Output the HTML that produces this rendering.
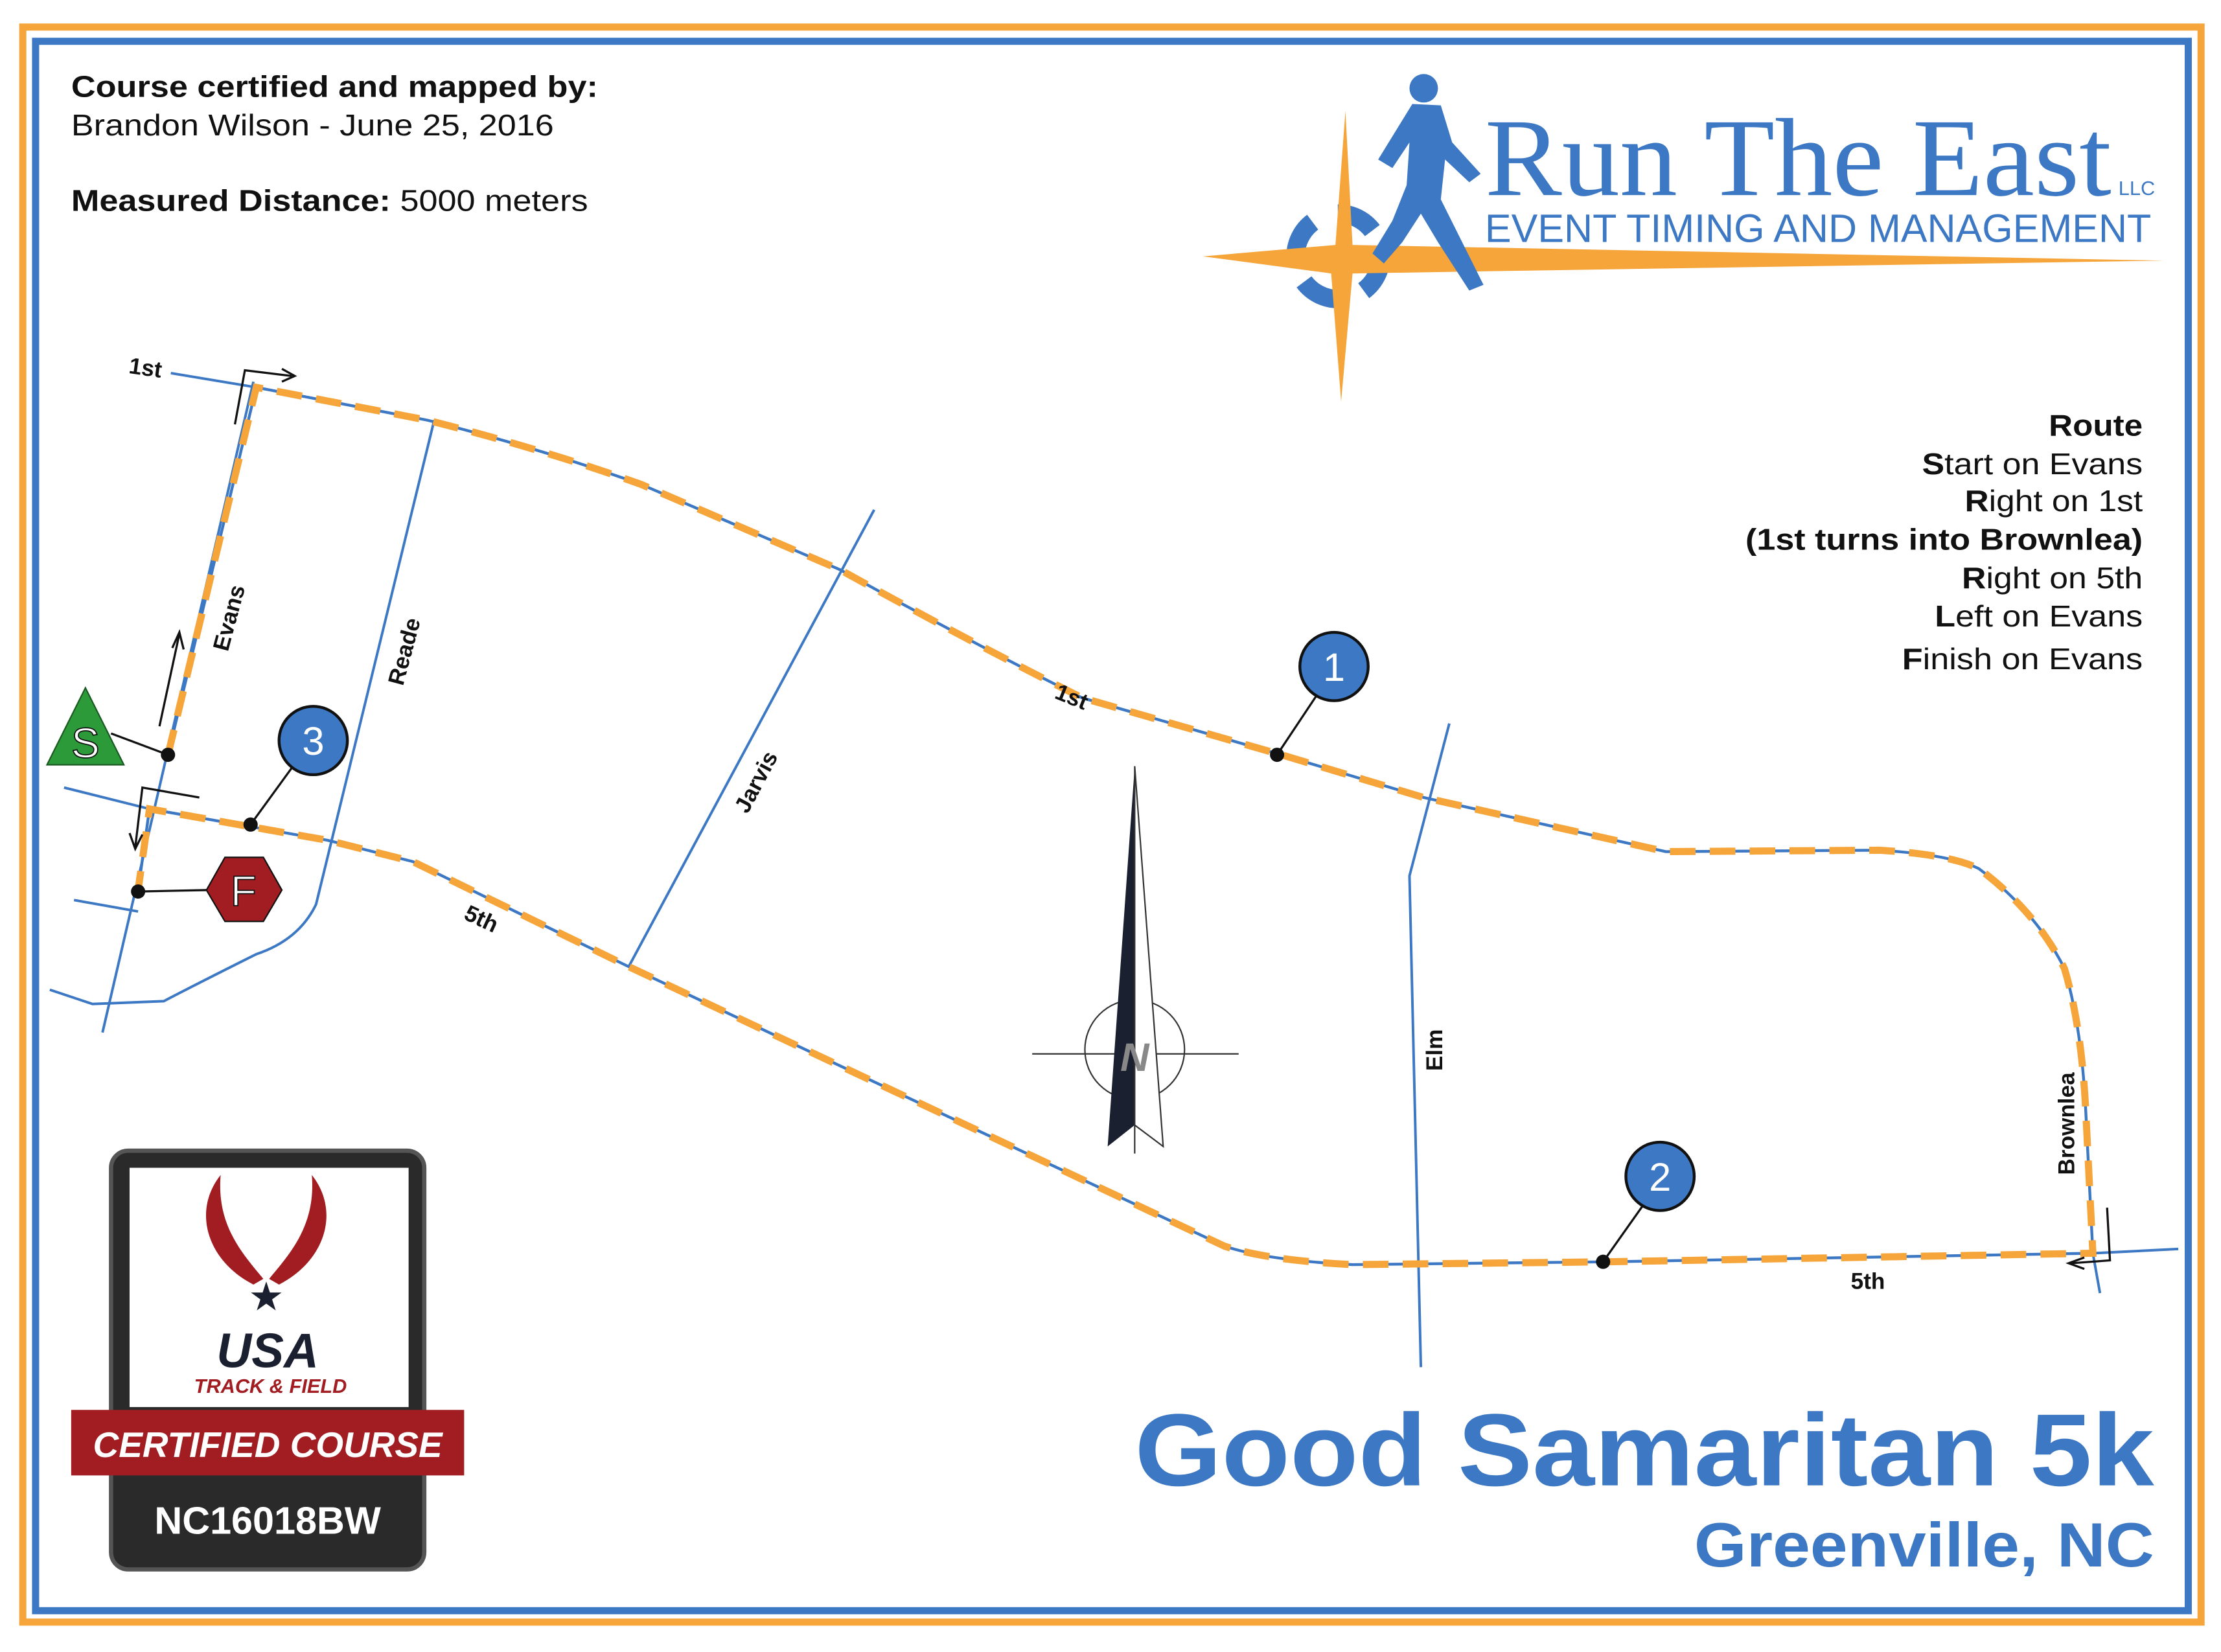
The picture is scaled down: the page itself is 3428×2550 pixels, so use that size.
<!DOCTYPE html>
<html><head><meta charset="utf-8">
<style>
html,body{margin:0;padding:0;background:#fff;}
svg{display:block;}
.s{font-family:"Liberation Sans",Arial,sans-serif;}
</style></head>
<body>
<svg width="3428" height="2550" viewBox="0 0 1560 1160" preserveAspectRatio="none" xmlns="http://www.w3.org/2000/svg">
<rect width="1560" height="1160" fill="#fff"/>
<rect x="16" y="19" width="1530" height="1120" fill="none" stroke="#f5a53a" stroke-width="5"/>
<rect x="25" y="29" width="1512" height="1102" fill="none" stroke="#3c78c3" stroke-width="5"/>

<g class="s">
<text x="50" y="68" font-size="21" font-weight="bold" fill="#111" textLength="370" lengthAdjust="spacingAndGlyphs">Course certified and mapped by:</text>
<text x="50" y="95" font-size="21" fill="#111" textLength="339" lengthAdjust="spacingAndGlyphs">Brandon Wilson - June 25, 2016</text>
<text x="50" y="148" font-size="21" fill="#111" textLength="363" lengthAdjust="spacingAndGlyphs"><tspan font-weight="bold">Measured Distance:</tspan> 5000 meters</text>
</g>

<!-- logo -->
<g>
<circle cx="940" cy="180" r="30" fill="none" stroke="#3c78c3" stroke-width="13" stroke-dasharray="28 19"/>
<polygon points="845,180 938,172 945,78 950,172 1520,183 950,192 942,282 935,192" fill="#f5a53a"/>
<circle cx="1000" cy="62" r="10" fill="#3c78c3"/>
<path d="M992,73 L1012,74 L1020,100 L1040,122 L1032,128 L1015,112 L1012,140 L1028,172 L1042,200 L1032,204 L1010,170 L998,150 L985,170 L972,185 L964,178 L978,155 L988,130 L990,100 L978,118 L968,112 Z" fill="#3c78c3"/>
<text x="1043" y="137" font-size="78" style="font-family:'Liberation Serif',serif" fill="#3c78c3" textLength="440" lengthAdjust="spacingAndGlyphs">Run The East</text>
<text x="1488" y="137" font-size="14" style="font-family:'Liberation Sans',sans-serif" fill="#3c78c3">LLC</text>
<text x="1043" y="170" font-size="28" style="font-family:'Liberation Sans',sans-serif" fill="#3c78c3" textLength="468" lengthAdjust="spacingAndGlyphs">EVENT TIMING AND MANAGEMENT</text>
</g>

<g class="s" font-size="21" fill="#111" text-anchor="end">
<text x="1505" y="306" font-weight="bold" textLength="66" lengthAdjust="spacingAndGlyphs">Route</text>
<text x="1505" y="333" textLength="155" lengthAdjust="spacingAndGlyphs"><tspan font-weight="bold">S</tspan>tart on Evans</text>
<text x="1505" y="359" textLength="125" lengthAdjust="spacingAndGlyphs"><tspan font-weight="bold">R</tspan>ight on 1st</text>
<text x="1505" y="386" font-weight="bold" textLength="279" lengthAdjust="spacingAndGlyphs">(1st turns into Brownlea)</text>
<text x="1505" y="413" textLength="127" lengthAdjust="spacingAndGlyphs"><tspan font-weight="bold">R</tspan>ight on 5th</text>
<text x="1505" y="440" textLength="146" lengthAdjust="spacingAndGlyphs"><tspan font-weight="bold">L</tspan>eft on Evans</text>
<text x="1505" y="470" textLength="169" lengthAdjust="spacingAndGlyphs"><tspan font-weight="bold">F</tspan>inish on Evans</text>
</g>

<g fill="none" stroke="#3c78c3" stroke-width="1.8">
<path d="M120,262 L180,272"/>
<path d="M178,268 L72,725"/>
<path d="M305,295 L222,635 Q210,660 180,670 Q140,690 115,703 L65,705 L35,695"/>
<path d="M614,358 L442,678"/>
<path d="M1018,508 L990,615 L998,960"/>
<path d="M1470,880 L1475,908 M1470,880 L1530,877"/>
<path d="M45,553 L105,568 M52,632 L97,640"/>
</g>
<path d="M118,530 L180,272 L300,295 Q380,315 450,340 L590,400 Q680,450 760,490 L900,530 L1000,560 L1170,598 L1320,597 Q1370,600 1390,610 Q1430,640 1450,680 Q1462,720 1465,780 L1470,880 L1130,886 L950,888 Q890,885 860,875 L700,800 L440,678 L290,605 L230,590 L105,568 L97,625" fill="none" stroke="#3c78c3" stroke-width="2"/>
<path d="M118,530 L180,272 L300,295 Q380,315 450,340 L590,400 Q680,450 760,490 L900,530 L1000,560 L1170,598 L1320,597 Q1370,600 1390,610 Q1430,640 1450,680 Q1462,720 1465,780 L1470,880 L1130,886 L950,888 Q890,885 860,875 L700,800 L440,678 L290,605 L230,590 L105,568 L97,625" fill="none" stroke="#f5a53a" stroke-width="5" stroke-dasharray="18 10"/>

<g fill="none" stroke="#111" stroke-width="1.5">
<path d="M165,298 L172,260 L205,264"/><path d="M198,259 L207,264 L198,268"/>
<path d="M112,510 L126,445"/><path d="M121,455 L126,444 L129,456"/>
<path d="M140,560 L100,553 L95,595"/><path d="M91,585 L95,596 L100,586"/>
<path d="M1480,848 L1482,885 L1455,887"/><path d="M1464,883 L1453,887 L1464,891"/>
</g>

<g class="s" font-size="16" font-weight="bold" fill="#111">
<text x="90" y="262" transform="rotate(8 90 262)">1st</text>
<text x="160" y="458" transform="rotate(-75 160 458)">Evans</text>
<text x="283" y="482" transform="rotate(-75 283 482)">Reade</text>
<text x="525" y="572" transform="rotate(-62 525 572)">Jarvis</text>
<text x="740" y="490" transform="rotate(22 740 490)">1st</text>
<text x="325" y="645" transform="rotate(25 325 645)">5th</text>
<text x="1013" y="752" transform="rotate(-90 1013 752)">Elm</text>
<text x="1457" y="825" transform="rotate(-90 1457 825)">Brownlea</text>
<text x="1300" y="905">5th</text>
</g>

<g stroke="#111" stroke-width="1.5">
<line x1="118" y1="530" x2="78" y2="515"/>
<line x1="176" y1="579" x2="208" y2="535"/>
<line x1="97" y1="626" x2="145" y2="625"/>
<line x1="897" y1="530" x2="925" y2="488"/>
<line x1="1126" y1="886" x2="1155" y2="845"/>
</g>
<g fill="#111">
<circle cx="118" cy="530" r="5"/><circle cx="176" cy="579" r="5"/><circle cx="97" cy="626" r="5"/>
<circle cx="897" cy="530" r="5"/><circle cx="1126" cy="886" r="5"/>
</g>
<polygon points="60,483 87,537 33,537" fill="#2d9a3a" stroke="#1a5a22" stroke-width="1"/>
<text class="s" x="60" y="532" font-size="30" fill="#fff" text-anchor="middle" stroke="#111" stroke-width="0.8">S</text>
<polygon points="158,602 185,602 198,625 185,647 158,647 145,625" fill="#a11d22" stroke="#111" stroke-width="1"/>
<text class="s" x="171" y="636" font-size="30" fill="#fff" text-anchor="middle" stroke="#111" stroke-width="0.8">F</text>
<g class="s" font-size="28" fill="#fff" text-anchor="middle">
<circle cx="220" cy="520" r="24" fill="#3c78c3" stroke="#111" stroke-width="2"/><text x="220" y="530">3</text>
<circle cx="937" cy="468" r="24" fill="#3c78c3" stroke="#111" stroke-width="2"/><text x="937" y="478">1</text>
<circle cx="1166" cy="826" r="24" fill="#3c78c3" stroke="#111" stroke-width="2"/><text x="1166" y="836">2</text>
</g>

<g>
<line x1="725" y1="740" x2="870" y2="740" stroke="#333" stroke-width="1"/>
<line x1="797" y1="690" x2="797" y2="810" stroke="#333" stroke-width="1"/>
<circle cx="797" cy="737" r="35" fill="none" stroke="#333" stroke-width="1"/>
<polygon points="797,538 778,805 797,790" fill="#1a2030"/>
<polygon points="797,538 817,805 797,790" fill="#fff" stroke="#333" stroke-width="1"/>
<text class="s" x="797" y="752" font-size="28" font-weight="bold" font-style="italic" fill="#888" text-anchor="middle">N</text>
</g>

<g>
<rect x="78" y="808" width="220" height="294" rx="12" fill="#2a2a2a" stroke="#555" stroke-width="3"/>
<rect x="91" y="820" width="196" height="168" fill="#fff"/>
<path d="M178,902 C145,885 135,850 155,825 C152,860 170,880 185,898 Z" fill="#a11d22"/>
<path d="M196,902 C229,885 239,850 219,825 C222,860 204,880 189,898 Z" fill="#a11d22"/>
<text class="s" x="187" y="920" font-size="28" fill="#1a2030" text-anchor="middle">★</text>
<text class="s" x="188" y="960" font-size="34" font-weight="bold" font-style="italic" fill="#1a2030" text-anchor="middle">USA</text>
<text class="s" x="190" y="978" font-size="14" font-weight="bold" font-style="italic" fill="#a11d22" text-anchor="middle">TRACK &amp; FIELD</text>
<rect x="50" y="990" width="276" height="46" fill="#a11d22"/>
<text class="s" x="188" y="1023" font-size="25" font-weight="bold" font-style="italic" fill="#fff" text-anchor="middle">CERTIFIED COURSE</text>
<text class="s" x="188" y="1077" font-size="27" font-weight="bold" fill="#fff" text-anchor="middle">NC16018BW</text>
</g>

<text class="s" x="797" y="1043" font-size="72" font-weight="bold" fill="#3c78c3" textLength="716" lengthAdjust="spacingAndGlyphs">Good Samaritan 5k</text>
<text class="s" x="1190" y="1100" font-size="44" font-weight="bold" fill="#3c78c3" textLength="323" lengthAdjust="spacingAndGlyphs">Greenville, NC</text>
</svg>
</body></html>
